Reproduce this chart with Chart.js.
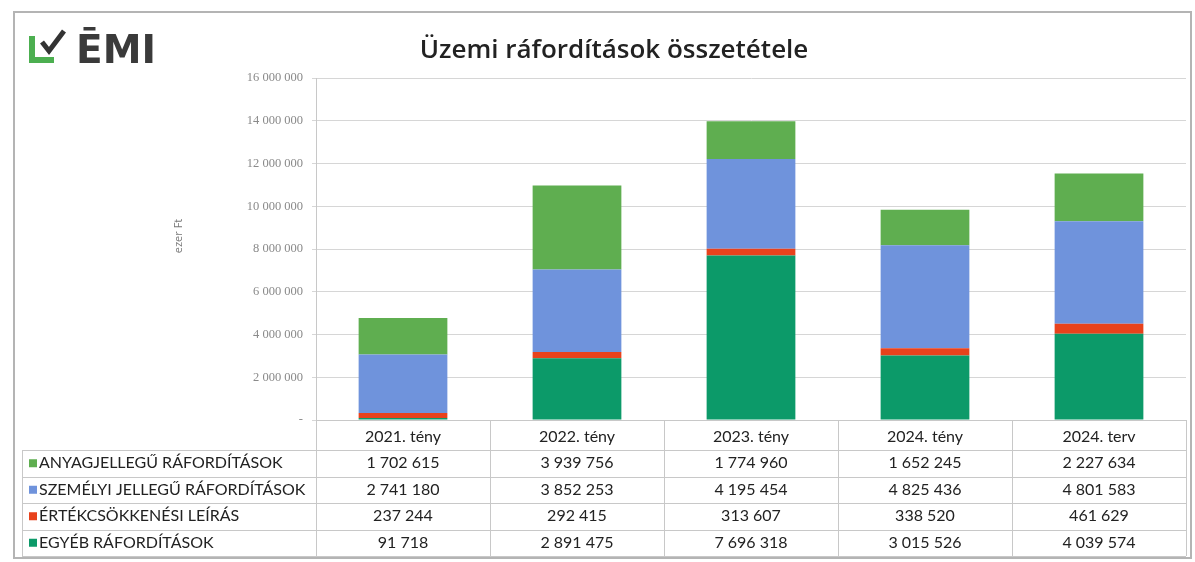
<!DOCTYPE html>
<html>
<head>
<meta charset="utf-8">
<script src="https://cdn.jsdelivr.net/npm/chart.js@4"></script>
<style>
  html, body { margin: 0; padding: 0; background: #fff; }
  #doboz { position: relative; width: 1195px; height: 562px; }
</style>
</head>
<body>
<div id="doboz"><canvas id="grafikon" width="1195" height="562"></canvas></div>
<script>
// Adatok (ezer Ft)
const kategoriak = ['2021. tény', '2022. tény', '2023. tény', '2024. tény', '2024. terv'];
const anyagjellegu = [1702615, 3939756, 1774960, 1652245, 2227634];
const szemelyi = [2741180, 3852253, 4195454, 4825436, 4801583];
const ertekcsokkenes = [237244, 292415, 313607, 338520, 461629];
const egyeb = [91718, 2891475, 7696318, 3015526, 4039574];
const yMax = 16000000;
const yLepes = 2000000;

const sorNevek = ['ANYAGJELLEGŰ RÁFORDÍTÁSOK', 'SZEMÉLYI JELLEGŰ RÁFORDÍTÁSOK', 'ÉRTÉKCSÖKKENÉSI LEÍRÁS', 'EGYÉB RÁFORDÍTÁSOK'];
const szinek = {
    anyag: '#5fae50',
    szemelyi: '#6f93dc',
    ertek: '#e8421c',
    egyeb: '#0c9a69'
};

// Szóközzel tagolt számformátum
const formaz = (n) => String(n).replace(/\B(?=(\d{3})+(?!\d))/g, ' ');

// Keret, logó, cím és adattábla rajzolása
const kiegeszitok = {
    id: 'kiegeszitok',
    beforeDraw(chart) {
        const ctx = chart.ctx;
        ctx.save();
        ctx.fillStyle = '#fff';
        ctx.fillRect(0, 0, chart.width, chart.height);
        ctx.strokeStyle = '#b4b4b4';
        ctx.lineWidth = 2;
        ctx.strokeRect(14, 12, 1177, 546);
        ctx.restore();
    },
    afterDraw(chart) {
        const ctx = chart.ctx;
        const area = chart.chartArea;
        const xs = chart.scales.x;
        ctx.save();

        // Logó
        ctx.strokeStyle = '#4caf50';
        ctx.lineWidth = 6;
        ctx.beginPath();
        ctx.moveTo(32, 36);
        ctx.lineTo(32, 60);
        ctx.lineTo(54, 60);
        ctx.stroke();
        ctx.strokeStyle = '#333';
        ctx.lineWidth = 5;
        ctx.beginPath();
        ctx.moveTo(42, 42);
        ctx.lineTo(49, 51);
        ctx.lineTo(64, 31);
        ctx.stroke();
        ctx.fillStyle = '#3a3a3a';
        ctx.font = 'bold 39px "DejaVu Sans"';
        ctx.textAlign = 'left';
        ctx.textBaseline = 'alphabetic';
        ctx.fillText('ĒMI', 76, 63);

        // Cím
        ctx.fillStyle = '#222';
        ctx.font = '600 26px "Open Sans"';
        ctx.textAlign = 'center';
        ctx.fillText('Üzemi ráfordítások összetétele', 614, 58);

        // Tengelycím
        ctx.save();
        ctx.translate(179, 236);
        ctx.rotate(-Math.PI / 2);
        ctx.fillStyle = '#777';
        ctx.font = '11px "Open Sans"';
        ctx.textBaseline = 'middle';
        ctx.fillText('ezer Ft', 0, 0);
        ctx.restore();

        // Adattábla
        const n = kategoriak.length;
        const oszlop = (area.right - area.left) / n;
        const tablaBal = 22;
        const fejlecAlja = 450;
        const sorMagas = 26.5;
        const sorok = [anyagjellegu, szemelyi, ertekcsokkenes, egyeb];
        const sorSzinek = [szinek.anyag, szinek.szemelyi, szinek.ertek, szinek.egyeb];
        const tablaAlja = fejlecAlja + sorMagas * sorok.length;

        ctx.strokeStyle = '#c8c8c8';
        ctx.lineWidth = 1;
        ctx.beginPath();
        ctx.moveTo(area.left, area.bottom + 0.5);
        ctx.lineTo(area.right, area.bottom + 0.5);
        for (let i = 0; i <= n; i++) {
            const x = Math.round(area.left + i * oszlop) + 0.5;
            ctx.moveTo(x, area.bottom);
            ctx.lineTo(x, tablaAlja);
        }
        ctx.moveTo(tablaBal + 0.5, fejlecAlja);
        ctx.lineTo(tablaBal + 0.5, tablaAlja);
        for (let r = 0; r <= sorok.length; r++) {
            const y = Math.round(fejlecAlja + r * sorMagas) + 0.5;
            ctx.moveTo(tablaBal, y);
            ctx.lineTo(area.right, y);
        }
        ctx.stroke();

        ctx.fillStyle = '#222';
        ctx.font = '16px Lato';
        ctx.textAlign = 'center';
        ctx.textBaseline = 'middle';
        kategoriak.forEach((k, i) => {
            ctx.fillText(k, xs.getPixelForValue(i), 437);
        });

        sorok.forEach((sor, r) => {
            const yk = fejlecAlja + r * sorMagas + sorMagas / 2;
            ctx.fillStyle = sorSzinek[r];
            ctx.fillRect(29, yk - 4, 8, 8);
            ctx.fillStyle = '#222';
            ctx.textAlign = 'left';
            ctx.font = '16px Lato';
            ctx.fillText(sorNevek[r], 39, yk);
            ctx.textAlign = 'center';
            ctx.font = '16px Lato';
            sor.forEach((v, i) => {
                ctx.fillText(formaz(v), xs.getPixelForValue(i), yk);
            });
        });

        ctx.restore();
    }
};

new Chart(document.getElementById('grafikon'), {
    type: 'bar',
    data: {
        labels: kategoriak,
        datasets: [
            { label: 'EGYÉB RÁFORDÍTÁSOK', data: egyeb, backgroundColor: szinek.egyeb },
            { label: 'ÉRTÉKCSÖKKENÉSI LEÍRÁS', data: ertekcsokkenes, backgroundColor: szinek.ertek },
            { label: 'SZEMÉLYI JELLEGŰ RÁFORDÍTÁSOK', data: szemelyi, backgroundColor: szinek.szemelyi },
            { label: 'ANYAGJELLEGŰ RÁFORDÍTÁSOK', data: anyagjellegu, backgroundColor: szinek.anyag }
        ]
    },
    options: {
        responsive: false,
        animation: false,
        datasets: {
            bar: { categoryPercentage: 1, barPercentage: 0.51 }
        },
        layout: {
            padding: { left: 160, right: 9, top: 78, bottom: 142 }
        },
        plugins: {
            legend: { display: false },
            title: { display: false },
            tooltip: { enabled: false }
        },
        scales: {
            x: {
                stacked: true,
                display: false
            },
            y: {
                stacked: true,
                min: 0,
                max: yMax,
                afterFit: (s) => { s.width = 156; },
                ticks: {
                    stepSize: yLepes,
                    padding: 9,
                    color: '#8a8a8a',
                    font: { family: '"Liberation Serif"', size: 12.5 },
                    callback: (v) => v === 0 ? '-' : formaz(v)
                },
                grid: {
                    color: '#d6d6d6',
                    tickLength: 4
                },
                border: { color: '#c8c8c8' }
            }
        }
    },
    plugins: [kiegeszitok]
});
</script>
</body>
</html>
